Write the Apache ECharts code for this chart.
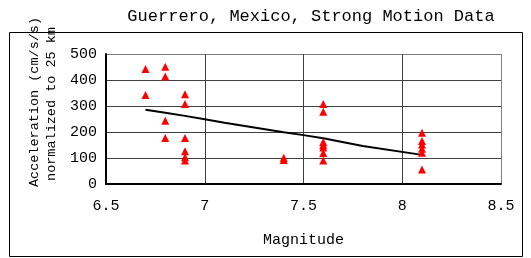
<!DOCTYPE html>
<html>
<head>
<meta charset="utf-8">
<script src="https://cdn.jsdelivr.net/npm/echarts@6/dist/echarts.min.js"></script>
<style>
html,body{margin:0;padding:0;background:#fff;}
#chart{width:531px;height:258px;}
</style>
</head>
<body>
<div id="chart"></div>
<script>
//观测数据 (震级, 加速度)
var obsM = [6.7, 6.7,
    6.8, 6.8, 6.8, 6.8,
    6.9, 6.9, 6.9, 6.9, 6.9, 6.9,
    7.4, 7.4,
    7.6, 7.6, 7.6, 7.6, 7.6, 7.6, 7.6,
    8.1, 8.1, 8.1, 8.1, 8.1, 8.1];
var obsA = [442, 342,
    451, 413, 243, 177,
    345, 308, 177, 126, 103, 90,
    101, 92,
    308, 278, 162, 150, 140, 119, 90,
    197, 165, 152, 136, 120, 56];
//拟合曲线
var fitM = [6.7, 6.8, 6.9, 7.0, 7.1, 7.4, 7.5, 7.6, 7.8, 8.1];
var fitA = [286, 274, 262, 249, 236, 199, 188, 176, 146, 112];
var xTicks = [6.5, 7, 7.5, 8, 8.5];
var yTicks = [0, 100, 200, 300, 400, 500];

var font = '"Liberation Mono", "DejaVu Sans Mono", monospace';

function pairs(xs, ys){
    var out = [];
    for(var i=0;i<xs.length;i++){
        out.push([xs[i], ys[i]]);
    }
    return out;
}

var myChart = echarts.init(document.getElementById('chart'));
var option = {
    animation: false,
    title: {
        text: 'Guerrero, Mexico, Strong Motion Data',
        left: 306, top: 3, textAlign: 'center',
        textStyle: {fontFamily: font, fontSize: 17, fontWeight: 'normal', color: '#000'}
    },
    grid: {left: 106, right: 30, top: 54, bottom: 74, show: false},
    graphic: [
        {type: 'rect', shape: {x: 9.5, y: 32.5, width: 513, height: 224}, style: {fill: 'none', stroke: '#000', lineWidth: 1}, z: -1},
        {type: 'text', x: 34, y: 102, rotation: Math.PI / 2,
            style: {text: 'Acceleration (cm/s/s)', font: '13.5px ' + font, fill: '#000', textAlign: 'center', textVerticalAlign: 'middle'}},
        {type: 'text', x: 51, y: 104, rotation: Math.PI / 2,
            style: {text: 'normalized to 25 km', font: '13.5px ' + font, fill: '#000', textAlign: 'center', textVerticalAlign: 'middle'}}
    ],
    xAxis: {
        type: 'value', min: xTicks[0], max: xTicks[xTicks.length - 1], interval: 0.5,
        name: 'Magnitude', nameLocation: 'middle', nameGap: 49,
        nameTextStyle: {fontFamily: font, fontSize: 15, color: '#000'},
        axisLine: {onZero: false, lineStyle: {color: '#000', width: 2}},
        axisTick: {show: false},
        axisLabel: {fontFamily: font, fontSize: 15, color: '#000', margin: 15},
        splitLine: {show: true, lineStyle: {color: ['#404040', '#404040', '#404040', '#404040', '#808080'], width: 1}}
    },
    yAxis: {
        type: 'value', min: yTicks[0], max: yTicks[yTicks.length - 1], interval: 100,
        axisLine: {show: true, lineStyle: {color: '#000', width: 2}},
        axisTick: {show: false},
        axisLabel: {fontFamily: font, fontSize: 15, color: '#000', margin: 9},
        splitLine: {show: true, lineStyle: {color: ['#404040', '#404040', '#404040', '#404040', '#404040', '#808080'], width: 1}}
    },
    series: [
        {
            type: 'line', data: pairs(fitM, fitA), showSymbol: false,
            lineStyle: {color: '#000', width: 2}, z: 2
        },
        {
            type: 'scatter', data: pairs(obsM, obsA), symbol: 'triangle', symbolSize: 8,
            itemStyle: {color: '#ff0000', opacity: 1}, z: 3
        }
    ]
};
myChart.setOption(option);
</script>
</body>
</html>
